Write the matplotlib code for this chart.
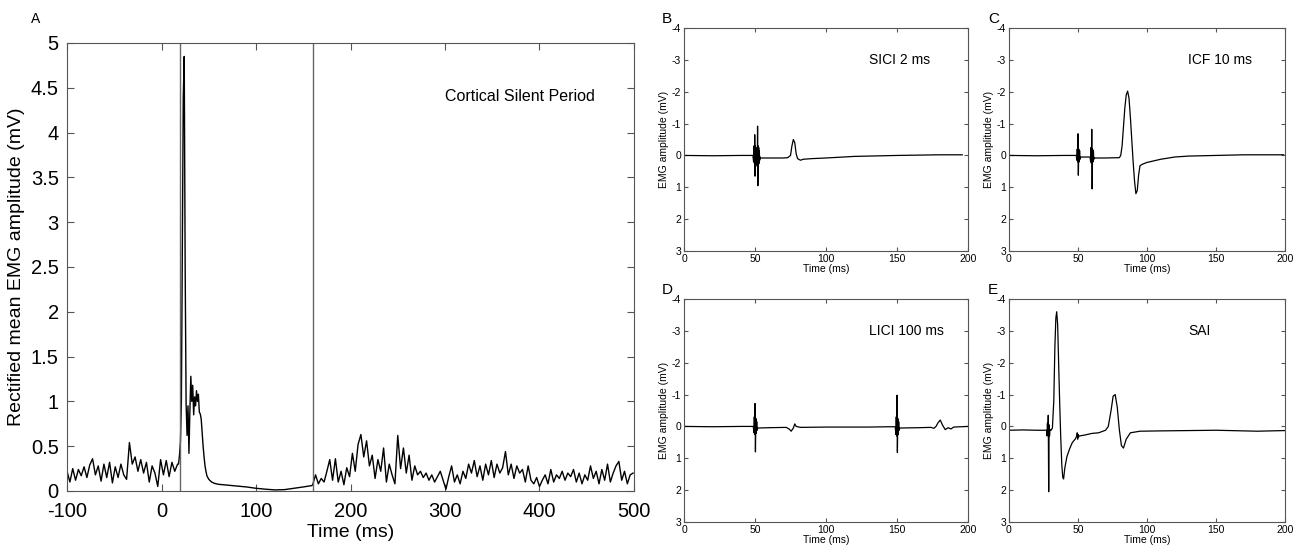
import numpy as np
import matplotlib.pyplot as plt

plt.rcParams['font.family'] = ['Liberation Sans', 'DejaVu Sans']
plt.rcParams['axes.unicode_minus'] = False

# Panel A - rectified mean EMG, cortical silent period
v_pre = [0.22, 0.10, 0.25, 0.12, 0.24, 0.17, 0.27, 0.15, 0.29, 0.36,
         0.18, 0.28, 0.11, 0.30, 0.15, 0.32, 0.09, 0.27, 0.15, 0.30,
         0.18, 0.13, 0.54, 0.30, 0.38, 0.22, 0.35, 0.20, 0.32, 0.10,
         0.28, 0.20, 0.05, 0.35, 0.18, 0.34, 0.16, 0.32, 0.22, 0.30]
t_mep = [18, 19, 20, 21, 22, 23, 24, 25, 26, 27, 28, 29, 30, 31, 32, 33,
         34, 35, 36, 37, 38, 39, 40, 41, 42, 43, 44, 45, 46, 47, 48, 50,
         53, 56, 60, 70, 80, 90, 100, 110, 120, 130, 140, 150, 159]
v_mep = [0.30, 0.40, 0.55, 1.00, 2.80, 4.40, 4.85, 2.50, 0.97, 0.62,
         0.95, 0.42, 0.90, 1.28, 1.00, 1.18, 0.85, 1.05, 0.95, 1.12,
         1.00, 1.08, 0.88, 0.86, 0.80, 0.65, 0.50, 0.38, 0.28, 0.22,
         0.17, 0.13, 0.10, 0.085, 0.075, 0.065, 0.055, 0.045, 0.03, 0.02,
         0.012, 0.015, 0.03, 0.045, 0.06]
v_post = [0.07, 0.18, 0.08, 0.14, 0.10, 0.22, 0.35, 0.12, 0.36, 0.10,
          0.22, 0.07, 0.26, 0.16, 0.42, 0.22, 0.52, 0.63, 0.38, 0.56,
          0.28, 0.40, 0.14, 0.35, 0.22, 0.48, 0.10, 0.30, 0.18, 0.08,
          0.62, 0.25, 0.48, 0.20, 0.40, 0.12, 0.28, 0.18, 0.22, 0.15,
          0.20, 0.12, 0.18, 0.10, 0.16, 0.22, 0.12, 0.02, 0.16, 0.28,
          0.10, 0.18, 0.08, 0.22, 0.14, 0.30, 0.20, 0.34, 0.16, 0.28,
          0.12, 0.30, 0.18, 0.34, 0.15, 0.30, 0.20, 0.26, 0.44, 0.18,
          0.30, 0.14, 0.28, 0.20, 0.24, 0.10, 0.28, 0.12, 0.08, 0.15,
          0.05, 0.12, 0.18, 0.08, 0.24, 0.10, 0.18, 0.14, 0.22, 0.12,
          0.20, 0.16, 0.24, 0.10, 0.20, 0.08, 0.18, 0.12, 0.28, 0.14,
          0.22, 0.08, 0.24, 0.12, 0.30, 0.10, 0.20, 0.28, 0.33, 0.12,
          0.22, 0.08, 0.18, 0.20]
csp_lines = [20, 160]
a_yticks = [0, 0.5, 1, 1.5, 2, 2.5, 3, 3.5, 4, 4.5, 5]
a_yticklabels = ['0', '0.5', '1', '1.5', '2', '2.5', '3', '3.5', '4', '4.5', '5']

# Panel B - SICI 2 ms
t_b = [0, 20, 40, 48.5, 49.0, 49.3, 49.6, 49.8, 50.0, 50.2, 50.4, 50.6,
       50.8, 51.0, 51.2, 51.4, 51.6, 51.8, 52.0, 52.2, 52.4, 52.6, 52.8,
       53.0, 53.3, 53.6, 54, 60, 70, 73, 75, 76, 77, 78, 79, 80, 82, 84,
       90, 100, 120, 150, 180, 196]
v_b = [0, 0.01, 0, 0, 0.2, -0.3, 0.25, -0.65, 0.65, -0.3, 0.35, -0.25,
       0.3, -0.2, 0.25, -0.2, 0.3, -0.92, 0.95, -0.3, 0.3, -0.25, 0.25,
       -0.15, 0.15, 0.05, 0.08, 0.08, 0.08, 0.07, 0.0, -0.3, -0.5, -0.4,
       -0.05, 0.1, 0.15, 0.12, 0.1, 0.08, 0.03, 0.0, -0.02, -0.02]

# Panel C - ICF 10 ms
t_c = [0, 20, 40, 48.8, 49.2, 49.5, 49.8, 50.0, 50.3, 50.6, 50.9, 51.2,
       51.5, 52, 55, 58.8, 59.2, 59.5, 59.8, 60.0, 60.3, 60.6, 60.9, 61.2,
       61.5, 62, 70, 80, 81, 82, 83, 84, 85, 86, 87, 88, 89, 90, 91, 92,
       93, 94, 95, 97, 100, 110, 120, 130, 150, 170, 199]
v_c = [0, 0.01, 0, 0, 0.15, -0.2, 0.2, -0.68, 0.62, -0.2, 0.2, -0.15,
       0.12, 0.05, 0.05, 0.05, 0.2, -0.25, 0.25, -0.82, 1.05, -0.2, 0.2,
       -0.15, 0.12, 0.08, 0.08, 0.07, 0.0, -0.3, -0.9, -1.5, -1.9, -2.02,
       -1.8, -1.2, -0.5, 0.2, 0.8, 1.2, 1.1, 0.6, 0.32, 0.27, 0.22, 0.12,
       0.05, 0.02, 0.0, -0.02, -0.02]

# Panel D - LICI 100 ms
t_d = [0, 20, 40, 48.8, 49.2, 49.5, 49.8, 50.0, 50.3, 50.6, 50.9, 51.2,
       51.5, 52, 60, 72, 74, 75.5, 77, 78, 79, 82, 100, 130, 145, 148.8,
       149.2, 149.5, 149.8, 150.0, 150.3, 150.6, 150.9, 151.2, 151.5, 152,
       165, 174, 176, 177.5, 179, 180.5, 182, 184, 186, 188, 190, 200]
v_d = [0, 0.01, 0, 0, 0.2, -0.3, 0.25, -0.72, 0.8, -0.25, 0.22, -0.15,
       0.12, 0.05, 0.04, 0.03, 0.08, 0.15, 0.05, -0.08, 0.0, 0.03, 0.02,
       0.02, 0.01, 0.01, 0.25, -0.3, 0.3, -0.98, 0.82, -0.25, 0.25, -0.15,
       0.12, 0.05, 0.04, 0.03, 0.06, 0.0, -0.12, -0.2, -0.05, 0.1, 0.04,
       0.08, 0.02, 0.0]

# Panel E - SAI
t_e = [0, 10, 20, 27.3, 27.6, 27.9, 28.2, 28.5, 28.8, 29.1, 29.4, 29.8,
       30.5, 31.5, 32.5, 33.3, 34.0, 34.6, 35.3, 36.0, 36.8, 37.5, 38.3,
       39.0, 39.6, 40.5, 42, 44, 46, 48, 49.2, 49.5, 49.8, 50.1, 50.4, 51,
       55, 60, 65, 70, 72, 74, 75.5, 77, 78.5, 80, 81.5, 83, 85, 88, 95,
       110, 150, 180, 200]
v_e = [0.12, 0.11, 0.12, 0.12, 0.3, -0.1, 0.25, -0.35, 2.05, -0.05, 0.3,
       0.1, 0.12, 0.05, -0.8, -2.5, -3.4, -3.6, -3.2, -2.0, -0.7, 0.3, 1.2,
       1.6, 1.65, 1.3, 0.95, 0.7, 0.5, 0.4, 0.3, 0.2, 0.4, 0.25, 0.33, 0.3,
       0.27, 0.22, 0.2, 0.12, 0.0, -0.5, -0.95, -1.0, -0.6, 0.1, 0.6, 0.68,
       0.4, 0.2, 0.15, 0.14, 0.12, 0.15, 0.13]

emg_ticks = [-4, -3, -2, -1, 0, 1, 2, 3]
time_ticks = [0, 50, 100, 150, 200]

fig = plt.figure(figsize=(12.97, 5.47), dpi=100)
spine_col = '#555555'

# Panel A
ax = fig.add_axes([0.0517, 0.1024, 0.4371, 0.819])
ax.plot(np.concatenate([-100 + 3 * np.arange(len(v_pre)), t_mep, 160 + 3 * np.arange(len(v_post))]),
        np.concatenate([v_pre, v_mep, v_post]), color='black', lw=1.0)
for x in csp_lines:
    ax.axvline(x, color='#666666', lw=1.0)
ax.set_xlim(-100, 500)
ax.set_ylim(0, 5)
ax.set_xticks([-100, 0, 100, 200, 300, 400, 500])
ax.set_yticks(a_yticks)
ax.set_yticklabels(a_yticklabels)
ax.tick_params(direction='in', top=True, right=True, length=5, labelsize=14.5, color=spine_col)
ax.tick_params(axis='x', pad=8)
ax.tick_params(axis='y', pad=6)
ax.set_xlabel('Time (ms)', fontsize=14, labelpad=2)
ax.set_ylabel('Rectified mean EMG amplitude (mV)', fontsize=14, labelpad=4)
ax.text(300, 4.4, 'Cortical Silent Period', fontsize=11.5, va='center')
for s in ax.spines.values():
    s.set_color(spine_col)
fig.text(0.024, 0.958, 'A', fontsize=10)

small = [
    ([0.5274, 0.5411, 0.2189, 0.4077], t_b, v_b, 'SICI 2 ms', 'B', (0.5105, 0.958)),
    ([0.7779, 0.5411, 0.2128, 0.4077], t_c, v_c, 'ICF 10 ms', 'C', (0.7617, 0.958)),
    ([0.5274, 0.0457, 0.2189, 0.4077], t_d, v_d, 'LICI 100 ms', 'D', (0.5105, 0.463)),
    ([0.7779, 0.0457, 0.2128, 0.4077], t_e, v_e, 'SAI', 'E', (0.7617, 0.463)),
]
for rect, t, v, name, letter, lpos in small:
    ax = fig.add_axes(rect)
    ax.plot(t, v, color='black', lw=0.9)
    ax.set_xlim(0, 200)
    ax.set_ylim(3, -4)
    ax.set_xticks(time_ticks)
    ax.set_yticks(emg_ticks)
    ax.tick_params(direction='in', top=True, right=True, length=3, labelsize=7.5, color=spine_col, pad=2)
    ax.set_xlabel('Time (ms)', fontsize=7.5, labelpad=0.5)
    ax.set_ylabel('EMG amplitude (mV)', fontsize=7.5, labelpad=2)
    ax.text(130, -3, name, fontsize=10, va='center')
    for s in ax.spines.values():
        s.set_color(spine_col)
    fig.text(lpos[0], lpos[1], letter, fontsize=11)

fig.savefig('out.png', dpi=100)
